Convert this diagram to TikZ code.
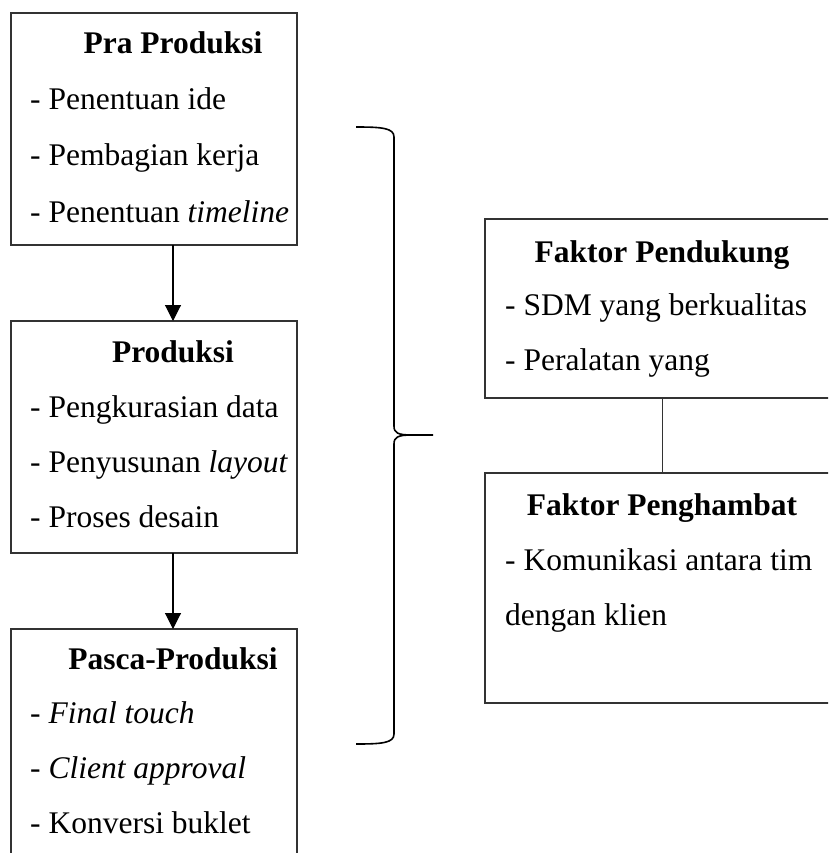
\documentclass[tikz,border=0pt]{standalone}
\usepackage{fontspec}
\setmainfont{Liberation Serif}
\usepackage{xcolor}
\definecolor{cline}{rgb}{0.2,0.2,0.2}
\usepackage{tikz}
\usetikzlibrary{positioning, arrows.meta}
\tikzset{
Box/.style={
	draw=cline,
	line width=1.3pt,
	rectangle,
	anchor=north west,
	inner sep=0pt,
	outer sep=0pt
},
LeftBox/.style={
	Box,
	minimum width=286pt,
	minimum height=232pt
},
RightBox/.style={
	Box,
	minimum width=355pt
},
Title/.style={
	anchor=base,
	inner sep=0pt,
	font=\fontsize{31.5}{38}\selectfont\bfseries
},
Item/.style={
	anchor=base west,
	inner sep=0pt,
	font=\fontsize{31.5}{38}\selectfont
},
Edge/.style={
	draw=cline,
	line width=1.1pt
},
ArrowEdge/.style={
	Edge,
	draw=black,
	-{Triangle[width=16pt,length=16pt]}
},
Brace/.style={
	draw=black,
	line width=1.6pt
}
}

\begin{document}
\begin{tikzpicture}[x=1pt, y=-1pt]
	\useasboundingbox (0,0) rectangle (828,853);
	\clip (0,0) rectangle (828,853);

	\node[LeftBox] (pra) at (11,13) {};
	\node[LeftBox, below=76pt of pra] (prod) {};
	\node[LeftBox, below=76pt of prod, minimum height=240pt] (pasca) {};

	\node[RightBox, minimum height=179pt] (dukung) at (485,219) {};
	\node[RightBox, below=75pt of dukung, minimum height=230pt] (hambat) {};

	\node[Title] (tpra) at (173,54) {Pra Produksi};
	\node[Item] (pra1) at (30,110) {- Penentuan ide};
	\node[Item] (pra2) at (30,166) {- Pembagian kerja};
	\node[Item] (pra3) at (30,222) {- Penentuan \textit{timeline}};

	\node[Title] (tprod) at (173,362) {Produksi};
	\node[Item] (prod1) at (30,417) {- Pengkurasian data};
	\node[Item] (prod2) at (30,472) {- Penyusunan \textit{layout}};
	\node[Item] (prod3) at (30,527) {- Proses desain};

	\node[Title] (tpasca) at (173,669) {Pasca-Produksi};
	\node[Item] (pasca1) at (30,723) {- \textit{Final touch}};
	\node[Item] (pasca2) at (30,778) {- \textit{Client approval}};
	\node[Item] (pasca3) at (30,833) {- Konversi buklet};

	\node[Title] (tdukung) at (662,262) {Faktor Pendukung};
	\node[Item] (dukung1) at (505,315) {- SDM yang berkualitas};
	\node[Item] (dukung2) at (505,370) {- Peralatan yang};

	\node[Title] (thambat) at (662,515) {Faktor Penghambat};
	\node[Item] (hambat1) at (505,570) {- Komunikasi antara tim};
	\node[Item] (hambat2) at (505,625) {dengan klien};

	\draw[ArrowEdge] (pra.south -| tprod) -- (prod.north -| tprod);
	\draw[ArrowEdge] (prod.south -| tprod) -- (pasca.north -| tprod);
	\draw[Edge] (dukung) -- (hambat);

	% kurung kurawal
	\coordinate (btop) at (356,127);
	\coordinate (btip) at (433,435);
	\coordinate (bbot) at (356,744);
	\draw[Brace] (btop) .. controls (382,127) and (394,128) .. (394,137) -- (394,426)
		.. controls (394,433) and (398,435) .. (412,435) -- (btip);
	\draw[Brace] (412,435) .. controls (398,435) and (394,437) .. (394,444) -- (394,734)
		.. controls (394,743) and (382,744) .. (bbot);
\end{tikzpicture}
\end{document}
